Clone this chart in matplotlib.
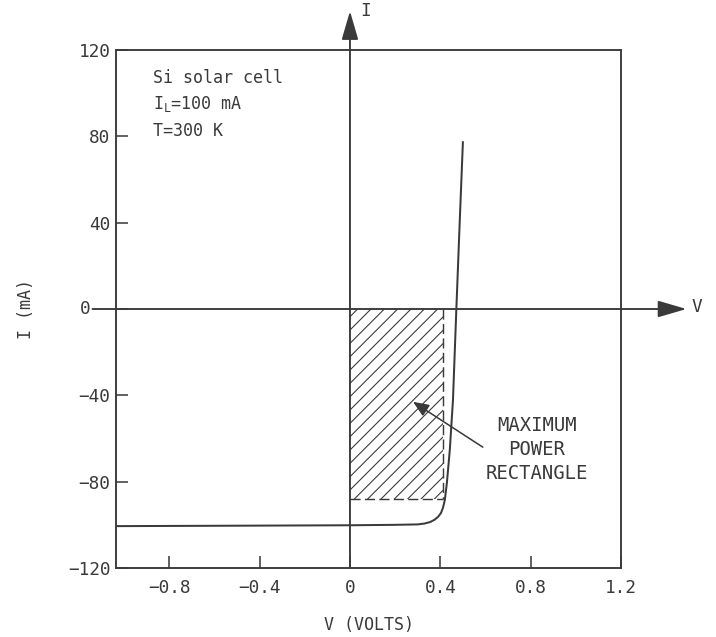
import matplotlib
matplotlib.use("Agg")
import matplotlib.pyplot as plt

# I-V curve of the Si solar cell
V_CURVE = [-1.036, -0.5, 0.0, 0.20, 0.30, 0.33, 0.355, 0.375, 0.39, 0.403,
           0.412, 0.420, 0.429, 0.442, 0.456, 0.471, 0.485, 0.500]
I_CURVE = [-100.6, -100.4, -100.2, -100.0, -99.8, -99.4, -98.7, -97.6, -96.3, -94.5,
           -92.0, -88.5, -80.6, -65.3, -42.2, 0.0, 38.0, 77.4]

# maximum power point (corner of the hatched rectangle)
V_MP = 0.41
I_MP = -88.0

X_TICKS = [-0.8, -0.4, 0.0, 0.4, 0.8, 1.2]
X_LABELS = ["\u22120.8", "\u22120.4", "0", "0.4", "0.8", "1.2"]
Y_TICKS = [-120, -80, -40, 0, 40, 80, 120]
Y_LABELS = ["\u2212120", "\u221280", "\u221240", "", "40", "80", "120"]

INK = "#3a3a3a"
DPI = 80

plt.rcParams["font.family"] = ["DejaVu Sans Mono", "DejaVu Sans"]
plt.rcParams["mathtext.fontset"] = "custom"
plt.rcParams["mathtext.rm"] = "DejaVu Sans Mono"
plt.rcParams["hatch.linewidth"] = 1.0

W, H = 716, 637
fig = plt.figure(figsize=(W / DPI, H / DPI), dpi=DPI)
ax = fig.add_axes([116 / W, (H - 568) / H, (621 - 116) / W, (568 - 50) / H])
ax.set_xlim(-1.036, 1.2)
ax.set_ylim(-120, 120)

for sp in ax.spines.values():
    sp.set_color(INK)
    sp.set_linewidth(1.7)

ax.set_xticks(X_TICKS)
ax.set_xticklabels(X_LABELS)
ax.set_yticks(Y_TICKS)
ax.set_yticklabels(Y_LABELS)
ax.tick_params(direction="in", length=11, width=1.4, color=INK, labelcolor=INK,
               labelsize=16)
ax.tick_params(axis="x", pad=10)
ax.tick_params(axis="y", pad=5)
# the "0" label sits left of the extended V axis line
ax.text(-1.15, 0, "0", ha="right", va="center", fontsize=16, color=INK,
        clip_on=False)

ax.set_xlabel("V (VOLTS)", fontsize=15, color=INK, labelpad=17)
ax.set_ylabel("I (mA)", fontsize=15, color=INK, labelpad=30)

# maximum power rectangle
ax.fill_between([0, V_MP], I_MP, 0, hatch="//", facecolor="none",
                edgecolor=INK, linewidth=0)
ax.plot([V_MP, V_MP], [0, I_MP], color=INK, lw=1.3, dashes=(7, 3))
ax.plot([0, V_MP], [I_MP, I_MP], color=INK, lw=1.3, dashes=(7, 3))

# I-V curve
ax.plot(V_CURVE, I_CURVE, color=INK, lw=1.8, solid_capstyle="round")

# coordinate axes with arrows
axis_arrow = dict(arrowstyle="-|>,head_length=1.1,head_width=0.32",
                  mutation_scale=20, color=INK, lw=1.7, shrinkA=0, shrinkB=0)
ax.annotate("", xy=(1.49, 0), xytext=(-1.14, 0), arrowprops=axis_arrow,
            annotation_clip=False)
ax.annotate("", xy=(0, 138), xytext=(0, -120), arrowprops=axis_arrow,
            annotation_clip=False)
ax.text(1.51, 1, "V", ha="left", va="center", fontsize=16, color=INK, clip_on=False)
ax.text(0.07, 138, "I", ha="center", va="center", fontsize=16, color=INK, clip_on=False)

# annotations
ax.text(-0.872, 107, "Si solar cell", ha="left", va="center", fontsize=15, color=INK)
ax.text(-0.872, 95, r"$\mathrm{I_L}$=100 mA", ha="left", va="center", fontsize=15,
        color=INK)
ax.text(-0.872, 82.5, "T=300 K", ha="left", va="center", fontsize=15, color=INK)

ax.text(0.827, -65, "MAXIMUM\nPOWER\nRECTANGLE", ha="center", va="center",
        fontsize=17, color=INK, linespacing=1.35)
ax.annotate("", xy=(0.279, -43), xytext=(0.588, -64),
            arrowprops=dict(arrowstyle="-|>,head_length=0.6,head_width=0.25",
                            mutation_scale=20, color=INK, lw=1.4,
                            shrinkA=0, shrinkB=0))

fig.savefig("out.png", dpi=DPI, facecolor="white")
